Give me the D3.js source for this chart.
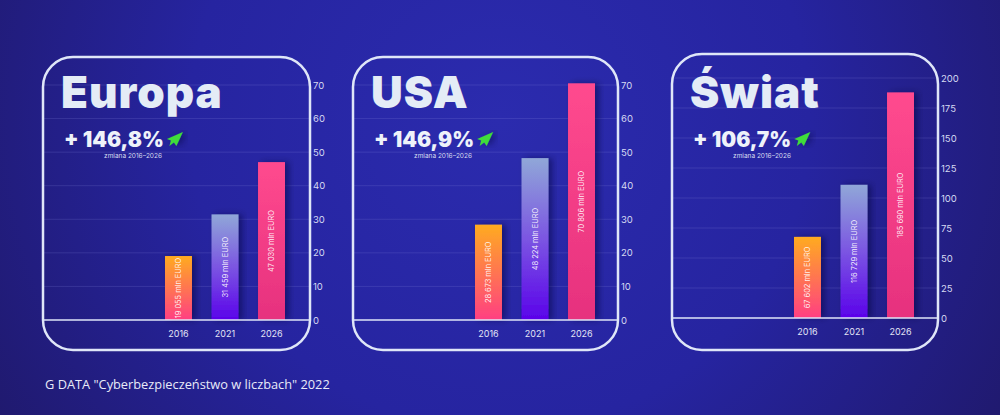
<!DOCTYPE html>
<html>
<head>
<meta charset="utf-8">
<script src="https://cdn.jsdelivr.net/npm/d3@7"></script>
<style>
  body { margin: 0; background: #221c78; }
  svg { display: block; }
</style>
</head>
<body>
<svg width="1000" height="415"></svg>
<script>
// data
var years = ['2016', '2021', '2026'];
var regions = ['Europa', 'USA', 'Świat'];
var europaValues = [19.055, 31.459, 47.03];
var usaValues = [28.4, 48.224, 70.5];
var swiatValues = [67.6, 111, 188];
var europaLabels = ['19 055 mln EURO', '31 459 mln EURO', '47 030 mln EURO'];
var usaLabels = ['28 673 mln EURO', '48 224 mln EURO', '70 806 mln EURO'];
var swiatLabels = ['67 602 mln EURO', '116 729 mln EURO', '185 690 mln EURO'];
var changes = ['+ 146,8%', '+ 146,9%', '+ 106,7%'];
var changeNote = 'zmiana 2016–2026';
var ticksSmall = [0, 10, 20, 30, 40, 50, 60, 70];
var ticksWorld = [0, 25, 50, 75, 100, 125, 150, 175, 200];
var source = 'G DATA "Cyberbezpieczeństwo w liczbach" 2022';

var svg = d3.select('svg');
var defs = svg.append('defs');

// background
var bg = defs.append('radialGradient').attr('id', 'bg')
    .attr('gradientUnits', 'userSpaceOnUse')
    .attr('cx', 500).attr('cy', 120).attr('r', 620);
bg.append('stop').attr('offset', 0).attr('stop-color', '#2b2bae');
bg.append('stop').attr('offset', 0.5).attr('stop-color', '#2624a0');
bg.append('stop').attr('offset', 1).attr('stop-color', '#1f1868');
svg.append('rect').attr('width', 1000).attr('height', 415).attr('fill', 'url(#bg)');

// bar gradients
var barColors = [
  [['0', '#ffab20'], ['1', '#ff3f82']],
  [['0', '#90a7d8'], ['0.5', '#7b55e2'], ['1', '#5a02ea']],
  [['0', '#ff4a8e'], ['1', '#e6317e']]
];
barColors.forEach(function(stops, i) {
  var g = defs.append('linearGradient').attr('id', 'bar' + i)
      .attr('x1', 0).attr('y1', 0).attr('x2', 0).attr('y2', 1);
  stops.forEach(function(s) {
    g.append('stop').attr('offset', s[0]).attr('stop-color', s[1]);
  });
});

var shadow = defs.append('filter').attr('id', 'shadow')
    .attr('x', '-30%').attr('y', '-10%').attr('width', '160%').attr('height', '120%');
shadow.append('feDropShadow').attr('dx', 4).attr('dy', 0).attr('stdDeviation', 3)
    .attr('flood-color', '#0a0630').attr('flood-opacity', 0.45);

var panels = [
  {box: {x: 43, y: 57, w: 267, h: 293}, values: europaValues, labels: europaLabels,
   ticks: ticksSmall, max: 70, y0: 320, y1: 85},
  {box: {x: 353, y: 57, w: 265, h: 293}, values: usaValues, labels: usaLabels,
   ticks: ticksSmall, max: 70, y0: 320, y1: 85},
  {box: {x: 672, y: 54, w: 266, h: 296}, values: swiatValues, labels: swiatLabels,
   ticks: ticksWorld, max: 200, y0: 318, y1: 78}
];

panels.forEach(function(p, i) {
  var g = svg.append('g');
  var bx = p.box.x;

  var yScale = d3.scaleLinear().domain([0, p.max]).range([p.y0, p.y1]);
  var xScale = d3.scaleBand().domain(years).range([bx + 122, bx + 242])
      .paddingInner(0.42).paddingOuter(0);

  // grid lines
  g.selectAll('line.grid')
    .data(p.ticks.slice(1))
    .enter().append('line')
    .attr('class', 'grid')
    .attr('x1', bx).attr('x2', bx + p.box.w)
    .attr('y1', function(d) { return yScale(d); })
    .attr('y2', function(d) { return yScale(d); })
    .attr('stroke', '#8c8ce0').attr('stroke-opacity', 0.2).attr('stroke-width', 1);

  // bars
  var data = years.map(function(y, j) { return {year: y, value: p.values[j], label: p.labels[j], c: j}; });
  g.selectAll('rect.bar')
    .data(data)
    .enter().append('rect')
    .attr('class', 'bar')
    .attr('x', function(d) { return xScale(d.year); })
    .attr('y', function(d) { return yScale(d.value); })
    .attr('width', xScale.bandwidth())
    .attr('height', function(d) { return yScale(0) - yScale(d.value); })
    .attr('fill', function(d) { return 'url(#bar' + d.c + ')'; })
    .attr('filter', 'url(#shadow)');

  // bar labels
  g.selectAll('text.blabel')
    .data(data)
    .enter().append('text')
    .attr('class', 'blabel')
    .attr('transform', function(d) {
      var cx = xScale(d.year) + xScale.bandwidth() / 2;
      var cy = (yScale(d.value) + yScale(0)) / 2;
      return 'translate(' + [cx, cy] + ') rotate(-90)';
    })
    .attr('text-anchor', 'middle')
    .attr('dy', '0.35em')
    .attr('font-family', 'Inter, sans-serif')
    .attr('font-size', 7.4)
    .attr('fill', '#ffffff').attr('fill-opacity', 0.9)
    .text(function(d) { return d.label; });

  // box + baseline
  g.append('rect')
    .attr('x', bx).attr('y', p.box.y)
    .attr('width', p.box.w).attr('height', p.box.h)
    .attr('rx', 30).attr('ry', 30)
    .attr('fill', 'none')
    .attr('stroke', '#dfe6f8').attr('stroke-width', 2.5);
  g.append('line')
    .attr('x1', bx).attr('x2', bx + p.box.w)
    .attr('y1', yScale(0)).attr('y2', yScale(0))
    .attr('stroke', '#dfe6f8').attr('stroke-width', 1.5);

  // y axis (labels only)
  var yAxis = d3.axisRight(yScale).tickValues(p.ticks).tickSize(0).tickPadding(0);
  var ax = g.append('g')
    .attr('transform', 'translate(' + (bx + p.box.w + 3) + ',0)')
    .call(yAxis);
  ax.select('.domain').remove();
  ax.selectAll('text')
    .attr('font-family', 'Inter, sans-serif').attr('font-size', 9.5)
    .attr('fill', '#d6daf2');

  // x axis (labels only)
  var xAxis = d3.axisBottom(xScale).tickSize(0).tickPadding(0);
  var xa = g.append('g')
    .attr('transform', 'translate(0,' + (yScale(0) + 11) + ')')
    .call(xAxis);
  xa.select('.domain').remove();
  xa.selectAll('text')
    .attr('font-family', 'Inter, sans-serif').attr('font-size', 9)
    .attr('fill', '#e2e5f5');

  // title
  g.append('text')
    .attr('x', bx + 18).attr('y', 108)
    .attr('font-family', 'Inter, sans-serif').attr('font-weight', 900)
    .attr('font-size', 44).attr('letter-spacing', 1)
    .attr('fill', '#e4ecf6')
    .text(regions[i]);

  // change
  var ch = g.append('text')
    .attr('x', bx + 21).attr('y', 147)
    .attr('font-family', 'Inter, sans-serif').attr('font-weight', 900)
    .attr('font-size', 21)
    .attr('fill', '#eef2fa')
    .text(changes[i]);
  var w = ch.node().getComputedTextLength();

  // green arrow
  g.append('path')
    .attr('transform', 'translate(' + (bx + 21 + w + 3) + ',132)')
    .attr('d', 'M16,0 L0,7 L4,8.5 L2.5,14 L7,10.5 L9.5,14 Z')
    .attr('fill', '#3fdc3a')
    .attr('filter', 'url(#shadow)');

  g.append('text')
    .attr('x', bx + 90).attr('y', 158)
    .attr('text-anchor', 'middle')
    .attr('font-family', 'Inter, sans-serif').attr('font-size', 6.5)
    .attr('fill', '#d8dcf0')
    .text(changeNote);
});

svg.append('text')
  .attr('x', 45).attr('y', 389)
  .attr('font-family', '"Open Sans", sans-serif').attr('font-size', 12.8)
  .attr('fill', '#e8eaf8')
  .text(source);
</script>
</body>
</html>
